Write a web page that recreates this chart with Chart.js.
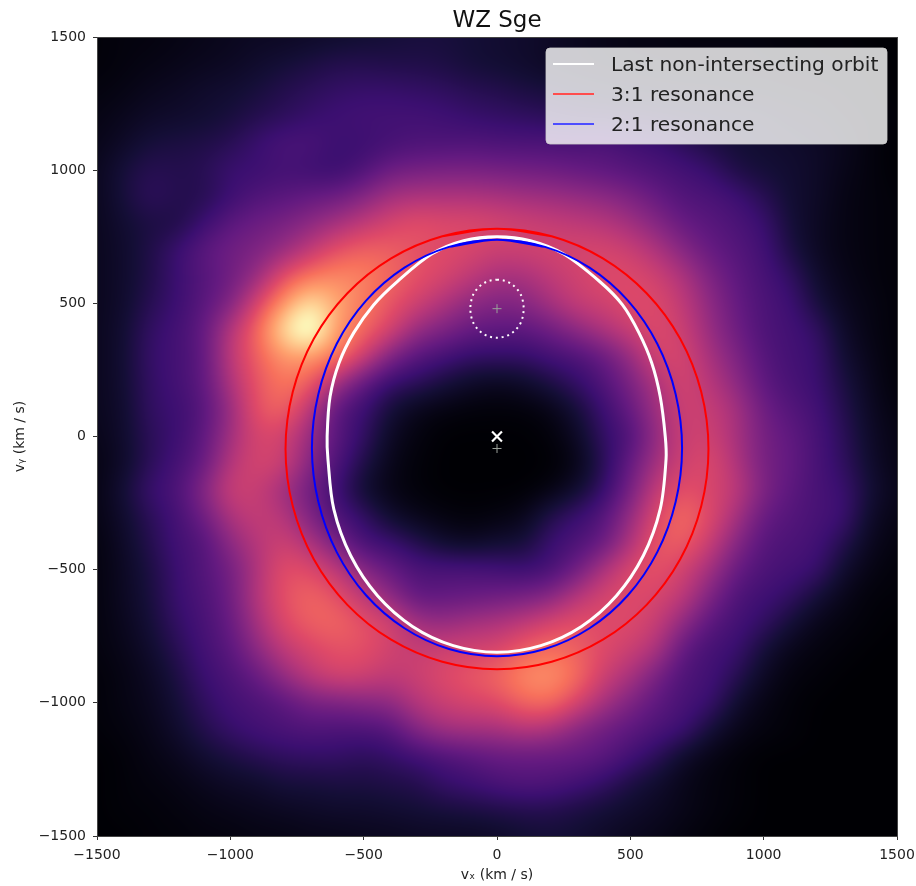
<!DOCTYPE html>
<html>
<head>
<meta charset="utf-8">
<title>WZ Sge</title>
<script src="https://cdn.jsdelivr.net/npm/chart.js@4"></script>
<style>
  html, body { margin: 0; padding: 0; background: #fff; }
  canvas { display: block; }
</style>
</head>
<body>
<canvas id="chart" width="916" height="886"></canvas>
<script>
// velocity grid of the map, km/s
const vxNodes = [-1500,-1400,-1300,-1200,-1100,-1000,-900,-800,-700,-600,-500,-400,-300,-200,-100,0,100,200,300,400,500,600,700,800,900,1000,1100,1200,1300,1400,1500];
const vyNodes = [1500,1400,1300,1200,1100,1000,900,800,700,600,500,400,300,200,100,0,-100,-200,-300,-400,-500,-600,-700,-800,-900,-1000,-1100,-1200,-1300,-1400,-1500];

// intensity (0-100, the blob peak is pushed above so the smoothing keeps it), one row per vyNodes entry
const intensity = [
  [1,2,2,3,4,5,6,6,7,8,9,10,11,11,10,9,8,7,5,4,3,3,2,2,2,2,1,1,1,0,0],
  [1,2,3,4,5,6,8,10,12,14,14,13,13,12,10,9,8,6,5,4,3,3,3,3,3,2,2,1,1,1,0],
  [2,3,5,6,8,9,11,14,16,18,19,19,18,17,15,14,12,11,9,8,7,6,5,5,4,4,3,3,2,1,0],
  [3,5,7,8,9,11,14,16,19,21,22,22,22,21,19,18,17,16,14,14,13,12,11,10,9,8,6,5,3,2,1],
  [4,7,11,12,13,15,20,24,24,20,20,22,24,24,25,24,24,24,24,25,22,20,16,12,10,9,8,7,5,2,0],
  [5,11,15,14,15,20,20,22,20,19,24,32,34,35,35,34,33,32,30,28,26,24,22,19,12,10,9,7,4,2,0],
  [5,11,17,14,14,20,25,27,30,32,38,46,48,48,48,47,45,44,42,40,36,30,25,24,21,15,9,7,3,2,1],
  [5,9,12,12,20,28,32,35,40,46,52,58,62,60,60,58,56,54,52,50,45,38,30,27,24,20,10,6,3,2,1],
  [5,8,13,20,28,33,36,42,52,62,67,66,62,60,58,55,56,57,58,58,55,48,38,30,26,22,12,6,3,2,1],
  [5,8,13,20,26,32,42,62,72,76,74,68,62,58,52,46,46,52,56,60,60,56,48,36,28,23,18,8,4,2,1],
  [5,8,15,20,27,36,58,78,96,82,72,63,56,48,40,37,38,46,54,56,60,60,52,40,30,24,21,11,5,3,1],
  [5,9,18,22,29,50,68,95,112,78,68,58,42,36,30,28,28,32,40,48,55,60,55,42,32,24,22,18,7,3,1],
  [5,9,19,22,28,52,66,78,78,72,56,36,26,22,18,18,18,22,24,30,42,58,58,46,36,26,22,20,9,4,1],
  [5,9,18,22,28,48,63,72,66,44,28,18,16,11,7,5,7,12,18,25,35,48,58,50,40,28,23,20,12,5,1],
  [5,8,18,20,26,42,63,68,50,26,20,10,4,2,1,1,1,3,10,20,30,45,56,54,46,32,26,22,14,6,2],
  [4,8,16,20,28,45,58,56,42,27,18,6,2,0,0,0,0,1,6,18,24,42,55,56,46,34,29,23,16,7,3],
  [3,7,16,22,30,50,58,56,38,24,13,4,1,0,0,0,0,0,3,15,30,46,56,60,48,34,30,23,17,8,3],
  [3,10,20,24,38,56,54,44,32,20,8,3,1,0,0,0,0,2,8,18,34,54,62,58,52,36,28,23,20,10,4],
  [3,8,16,22,32,48,54,50,36,24,18,8,4,2,1,2,4,14,20,26,42,60,70,60,46,30,26,23,21,7,3],
  [2,7,14,22,25,40,50,56,48,34,22,20,14,8,6,9,10,20,24,30,48,64,66,54,38,26,24,22,14,5,2],
  [2,6,12,20,26,33,48,62,60,52,38,30,24,24,24,22,20,22,32,48,60,63,56,45,30,24,22,20,8,3,1],
  [2,6,11,20,24,32,50,62,68,62,52,40,28,29,30,32,34,38,50,58,60,58,52,36,24,21,18,10,4,1,1],
  [2,5,10,18,23,30,46,60,66,68,62,58,45,42,46,48,52,58,62,60,60,54,40,27,22,18,10,4,2,1,0],
  [2,4,8,15,22,27,40,52,58,62,62,56,54,56,57,58,66,70,66,60,55,48,28,22,20,10,4,2,1,0,0],
  [1,3,6,12,20,24,30,42,52,58,56,52,55,60,64,68,76,78,70,55,47,34,24,22,15,6,2,1,0,0,0],
  [1,3,5,10,17,22,24,27,34,35,38,40,50,55,58,60,68,70,58,46,36,28,23,20,8,3,1,0,0,0,0],
  [1,2,4,8,14,19,22,24,25,24,24,26,38,45,46,46,50,47,38,32,28,24,21,10,4,2,1,0,0,0,0],
  [0,1,3,5,9,12,15,17,18,18,16,18,21,24,27,30,30,30,30,28,22,16,7,3,1,0,0,0,0,0,0],
  [0,1,2,3,5,7,8,11,11,12,12,13,14,19,21,24,26,25,22,18,12,8,4,2,1,0,0,0,0,0,0],
  [0,1,1,2,3,4,5,6,7,8,8,9,10,11,12,13,14,14,12,10,8,6,4,2,1,0,0,0,0,0,0],
  [0,0,1,1,2,2,3,3,4,4,5,5,6,6,6,7,9,10,9,7,5,4,2,1,0,0,0,0,0,0,0]
];

// orbits (last point repeats the first)
const lastOrbitVx = [0,125,250,386,470,532,580,612,631,634,612,549,448,317,164,0,-164,-317,-448,-549,-612,-634,-637,-626,-592,-537,-462,-375,-245,-125,0];
const lastOrbitVy = [750,735,685,581,495,390,277,150,0,-85,-273,-447,-598,-713,-785,-810,-785,-713,-598,-447,-273,-85,0,150,277,390,495,581,685,735,750];
const res31Vx = [0,205,397,561,687,766,793,766,687,561,397,205,0,-205,-397,-561,-687,-766,-793,-766,-687,-561,-397,-205,0];
const res31Vy = [780,752,669,538,367,167,-47,-261,-461,-632,-763,-846,-874,-846,-763,-632,-461,-261,-47,167,367,538,669,752,780];
const res21Vx = [0,180,347,491,601,670,694,670,601,491,347,180,0,-180,-347,-491,-601,-670,-694,-670,-601,-491,-347,-180,0];
const res21Vy = [739,712,634,510,348,159,-43,-245,-434,-596,-720,-798,-825,-798,-720,-596,-434,-245,-43,159,348,510,634,712,739];
const dotRingVx = [0,28,52,73,89,97,100,97,89,73,52,28,0,-28,-52,-73,-89,-97,-100,-97,-89,-73,-52,-28,0];
const dotRingVy = [589,585,574,556,533,508,480,452,427,404,386,375,371,375,386,404,427,452,480,508,533,556,574,585,589];

const tickValues = [-1500,-1000,-500,0,500,1000,1500];
const seriesNames = ['Last non-intersecting orbit', '3:1 resonance', '2:1 resonance'];

// magma colormap stops
const magma = ['#000004','#140e36','#3b0f70','#641a80','#8c2981','#b73779','#de4968','#f7705c','#fe9f6d','#fecf92','#fcfdbf']
  .map(h => [1,3,5].map(i => parseInt(h.substr(i,2),16)));

const FONT = "'DejaVu Sans', sans-serif";

function toPoints(xs, ys) { return xs.map((x,i) => ({x:x, y:ys[i]})); }

// wraps one point past the seam so the spline has no kink there
function toLoop(xs, ys) {
  const pts = toPoints(xs, ys);
  return [pts[pts.length-2], ...pts, pts[1]];
}

function splineWeights(t) {
  const t2 = t*t, t3 = t2*t;
  return [(1-t)*(1-t)*(1-t)/6, (3*t3-6*t2+4)/6, (-3*t3+3*t2+3*t+1)/6, t3/6];
}

// smooth lookup in the grid, like imshow's interpolation
function sampleMap(vx, vy) {
  const fx = (vx - vxNodes[0]) / 100, fy = (vyNodes[0] - vy) / 100;
  const ix = Math.floor(fx), iy = Math.floor(fy);
  const wx = splineWeights(fx-ix), wy = splineWeights(fy-iy);
  let sum = 0;
  for (let dj=0;dj<4;dj++) {
    const r = intensity[Math.max(0,Math.min(vyNodes.length-1,iy+dj-1))];
    for (let di=0;di<4;di++) {
      sum += wy[dj]*wx[di]*r[Math.max(0,Math.min(vxNodes.length-1,ix+di-1))];
    }
  }
  return sum;
}

// paints the tomogram under the orbits, using the chart scales
const heatmapPlugin = {
  id: 'heatmap',
  beforeDatasetsDraw(chart) {
    const {ctx, chartArea: a, scales} = chart;
    const w = Math.round(a.right-a.left), h = Math.round(a.bottom-a.top);
    const off = document.createElement('canvas');
    off.width = w; off.height = h;
    const octx = off.getContext('2d');
    const img = octx.createImageData(w,h);
    for (let j=0;j<h;j++) {
      const vy = scales.y.getValueForPixel(a.top+j+0.5);
      for (let i=0;i<w;i++) {
        const vx = scales.x.getValueForPixel(a.left+i+0.5);
        let v = sampleMap(vx,vy)/10;
        v = Math.max(0,Math.min(9.999,v));
        const k = Math.floor(v), t = v-k;
        const p = (j*w+i)*4;
        for (let c=0;c<3;c++) img.data[p+c] = magma[k][c]+(magma[k+1][c]-magma[k][c])*t;
        img.data[p+3] = 255;
      }
    }
    octx.putImageData(img,0,0);
    ctx.drawImage(off,a.left,a.top);
  }
};

// frame and matplotlib-like legend inside the axes
const framePlugin = {
  id: 'frame',
  afterDatasetsDraw(chart) {
    const {ctx, chartArea: a} = chart;
    ctx.save();
    ctx.strokeStyle = '#444';
    ctx.lineWidth = 1;
    ctx.strokeRect(a.left+0.5,a.top+0.5,a.right-a.left,a.bottom-a.top);

    // legend
    ctx.beginPath();
    ctx.roundRect(546,48,341,96,4);
    ctx.fillStyle = 'rgba(255,255,255,0.8)';
    ctx.fill();
    ctx.strokeStyle = 'rgba(204,204,204,0.8)';
    ctx.stroke();
    const colors = ['#ffffff','#ff4d4d','#4d4dff'];
    ctx.font = '20.2px '+FONT;
    ctx.textBaseline = 'alphabetic';
    seriesNames.forEach((name,i) => {
      const y = 64 + i*30;
      ctx.strokeStyle = colors[i];
      ctx.lineWidth = 2;
      ctx.beginPath(); ctx.moveTo(553,y); ctx.lineTo(594,y); ctx.stroke();
      ctx.fillStyle = '#222';
      ctx.fillText(name,611,y+6.7);
    });
    ctx.restore();
  }
};

new Chart(document.getElementById('chart'), {
  type: 'scatter',
  data: {
    datasets: [
      {label: seriesNames[0], data: toLoop(lastOrbitVx,lastOrbitVy), showLine:true, borderColor:'#ffffff', borderWidth:3, pointRadius:0, tension:0.33, order:3},
      {label: seriesNames[1], data: toLoop(res31Vx,res31Vy), showLine:true, borderColor:'#ff0000', borderWidth:2, pointRadius:0, tension:0.33, order:2},
      {label: seriesNames[2], data: toLoop(res21Vx,res21Vy), showLine:true, borderColor:'#0000ff', borderWidth:2, pointRadius:0, tension:0.33, order:1},
      {label: 'ring', data: toPoints(dotRingVx,dotRingVy), showLine:true, borderColor:'#ffffff', borderWidth:2, borderDash:[2,3.8], pointRadius:0, tension:0.33, order:0},
      {label: 'centre', data: [{x:0,y:0}], pointStyle:'crossRot', pointRadius:7, borderColor:'#ffffff', borderWidth:2.2, order:0},
      {label: 'marks', data: [{x:0,y:-45},{x:0,y:480}], pointStyle:'cross', pointRadius:4.5, borderColor:'#9aa09a', borderWidth:1, order:0}
    ]
  },
  options: {
    responsive: false,
    animation: false,
    layout: {padding: {right: 19}},
    plugins: {
      legend: {display: false},
      tooltip: {enabled: false},
      title: {display:true, text:'WZ Sge', color:'#111', fullSize:false, font:{family:FONT, size:23, weight:'normal', lineHeight:1.2}, padding:{top:7,bottom:2.4}}
    },
    scales: {
      x: {
        type:'linear', min:-1500, max:1500,
        afterFit: s => { s.height = 50; s.paddingLeft = 0; s.paddingRight = 0; },
        afterBuildTicks: s => { s.ticks = tickValues.map(v => ({value:v})); },
        grid: {drawOnChartArea:false, drawTicks:true, tickLength:4, color:'#333'},
        border: {display:false},
        ticks: {color:'#222', maxRotation:0, padding:7, font:{family:FONT, size:14}, callback: v => String(v).replace('-','\u2212')},
        title: {display:true, text:'v\u2093 (km / s)', color:'#222', font:{family:FONT, size:14}, padding:{top:2,bottom:2}}
      },
      y: {
        type:'linear', min:-1500, max:1500,
        afterFit: s => { s.width = 97; s.paddingTop = 0; s.paddingBottom = 0; },
        afterBuildTicks: s => { s.ticks = tickValues.map(v => ({value:v})); },
        grid: {drawOnChartArea:false, drawTicks:true, tickLength:4, color:'#333'},
        border: {display:false},
        ticks: {color:'#222', padding:7, font:{family:FONT, size:14}, callback: v => String(v).replace('-','\u2212')},
        title: {display:true, text:'v\u1d67 (km / s)', color:'#222', font:{family:FONT, size:14}, padding:{top:12,bottom:4}}
      }
    }
  },
  plugins: [heatmapPlugin, framePlugin]
});
</script>
</body>
</html>
